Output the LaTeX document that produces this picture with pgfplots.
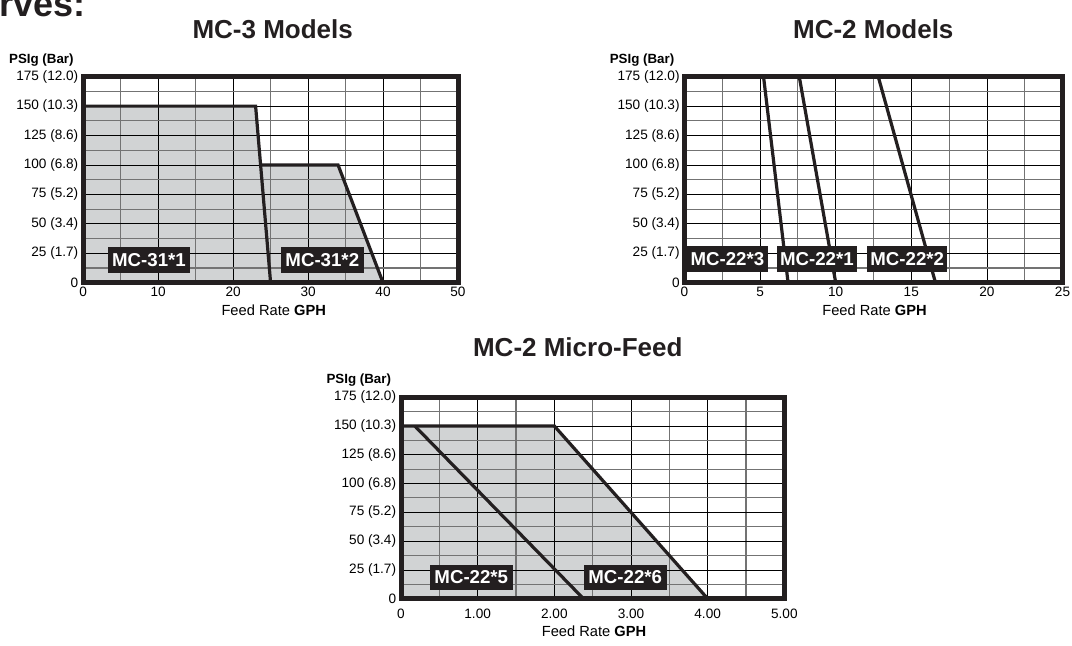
\documentclass[border=0pt]{standalone}
\usepackage{pgfplots}
\pgfplotsset{compat=1.18}
\usepackage{fontspec}
\setmainfont{Liberation Sans}
\definecolor{frame}{HTML}{231F20}
\definecolor{fillg}{HTML}{D1D3D4}
\pgfplotsset{
 chart/.style={
  scale only axis,
  set layers,
  axis line style={line width=3.75pt, color=frame, line cap=rect},
  ymin=0, ymax=175,
  ytick={0,25,...,175},
  yticklabels={0,25 (1.7),50 (3.4),75 (5.2),100 (6.8),125 (8.6),150 (10.3),175 (12.0)},
  minor y tick num=1,
  minor x tick num=1,
  grid=both,
  major grid style={black, line width=0.6pt},
  minor grid style={black!55, line width=0.8pt},
  tick style={draw=none},
  major tick length=0pt, minor tick length=0pt,
  ticklabel style={font=\fontsize{10.2}{12}\selectfont},
  /pgf/number format/assume math mode=true,
  yticklabel style={inner sep=0pt, xshift=-3.5pt},
  xticklabel style={inner sep=0pt, yshift=-3.3pt},
 },
 curve/.style={line width=2.4pt, color=frame, mark=none},
}
\tikzset{lab/.style={fill=frame, text=white, font=\bfseries\fontsize{14}{14}\selectfont, minimum width=62pt, minimum height=19.5pt, inner sep=0pt}}
\begin{document}
\begin{tikzpicture}
% ---------- MC-3 Models ----------
\begin{axis}[chart, at={(62.4pt,272.475pt)}, anchor=south west,
  width=281.1pt, height=154.5pt,
  xmin=0, xmax=50, xtick={0,10,...,50}, xticklabels={0,10,20,30,40,50}]
\addplot[fill=fillg, draw=none, on layer=axis background] coordinates {(0,150) (23,150) (23.67,100) (34,100) (40,0)} \closedcycle;
\addplot[curve] coordinates {(0,150) (23,150) (25,0)};
\addplot[curve] coordinates {(23.67,100) (34,100) (40,0)};
\node[lab] at (axis cs:8.78,19.5) {MC-31*1};
\node[lab] at (axis cs:31.9,19.5) {MC-31*2};
\end{axis}
% ---------- MC-2 Models ----------
\begin{axis}[chart, at={(513.375pt,272.475pt)}, anchor=south west,
  width=283.5pt, height=154.5pt,
  xmin=0, xmax=25, xtick={0,5,...,25}, xticklabels={0,5,10,15,20,25}]
\addplot[curve] coordinates {(5.2,178) (6.85,0)};
\addplot[curve] coordinates {(7.55,178) (10,0)};
\addplot[curve] coordinates {(12.75,178) (16.6,0)};
\node[lab, minimum width=60.3pt] at (axis cs:2.84,20) {MC-22*3};
\node[lab, minimum width=60.3pt] at (axis cs:8.76,20) {MC-22*1};
\node[lab, minimum width=60.3pt] at (axis cs:14.73,20) {MC-22*2};
\end{axis}
% ---------- MC-2 Micro-Feed ----------
\begin{axis}[chart, at={(300.75pt,35.475pt)}, anchor=south west,
  width=287.5pt, height=151.1pt,
  xmin=0, xmax=5, xtick={0,1,...,5}, xticklabels={0,1.00,2.00,3.00,4.00,5.00},
  xticklabel style={inner sep=0pt, yshift=-4.5pt}]
\addplot[fill=fillg, draw=none, on layer=axis background] coordinates {(0,150) (2,150) (4,0)} \closedcycle;
\addplot[curve] coordinates {(0,150) (2,150) (4,0)};
\addplot[curve] coordinates {(0.18,150) (2.38,0)};
\node[lab, minimum height=18.75pt] at (axis cs:0.917,18.4) {MC-22*5};
\node[lab, minimum height=18.75pt] at (axis cs:2.925,18.4) {MC-22*6};
\end{axis}
% ---------- texts ----------
\begin{scope}[x=0.75pt,y=0.75pt]
\node[anchor=base east, font=\bfseries\fontsize{27}{27}\selectfont, text=frame] at (90,629) {Curves:};
\node[anchor=base, font=\bfseries\fontsize{19.5}{20}\selectfont, text=frame] at (272.7,607.7) {MC-3 Models};
\node[anchor=base, font=\bfseries\fontsize{19.5}{20}\selectfont, text=frame] at (873.3,607.7) {MC-2 Models};
\node[anchor=base, font=\bfseries\fontsize{19.5}{20}\selectfont, text=frame] at (577.8,289.3) {MC-2 Micro-Feed};
\node[anchor=base east, font=\bfseries\fontsize{10}{12}\selectfont] at (78.3,582.7) {PSIg (Bar)};
\node[anchor=base east, font=\bfseries\fontsize{10}{12}\selectfont] at (679,582.7) {PSIg (Bar)};
\node[anchor=base east, font=\bfseries\fontsize{10}{12}\selectfont] at (395.7,262.7) {PSIg (Bar)};
\node[anchor=base, font=\fontsize{11}{13}\selectfont] at (273.7,330) {Feed Rate \textbf{GPH}};
\node[anchor=base, font=\fontsize{11}{13}\selectfont] at (874.5,330) {Feed Rate \textbf{GPH}};
\node[anchor=base, font=\fontsize{11}{13}\selectfont] at (594,9.3) {Feed Rate \textbf{GPH}};
\pgfresetboundingbox
\path[use as bounding box] (0,0) rectangle (1072,646);
\end{scope}
\end{tikzpicture}
\end{document}
